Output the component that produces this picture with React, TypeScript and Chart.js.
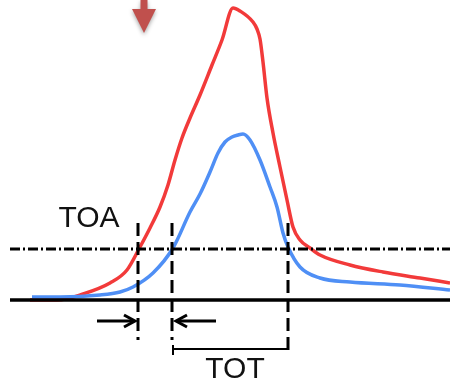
import React, { useEffect, useRef } from "react";
import { Chart, registerables } from "chart.js";

Chart.register(...registerables);

// time axis (arbitrary units) and amplitude (arbitrary units)
const redTime = [30, 57, 83, 110, 127, 140, 150, 160, 168, 175, 182, 190, 200, 212, 222, 233, 240, 253, 257, 260, 263, 267, 273, 280, 287, 293, 300, 310, 320, 350, 383, 420, 450];
const redAmp = [0, 0, 6, 17, 30, 53, 72, 93, 115, 140, 162, 182, 205, 235, 260, 292, 289, 278, 271, 261, 238, 202, 167, 133, 100, 73, 60, 52, 45, 35, 28, 22, 17];

const blueTime = [32, 60, 100, 120, 133, 153, 173, 190, 200, 210, 218, 225, 232, 238, 243, 250, 260, 270, 277, 283, 288, 300, 320, 350, 400, 450];
const blueAmp = [3, 3, 5, 8, 13, 27, 52, 88, 106, 128, 147, 158, 163, 165, 166, 160, 140, 113, 93, 67, 53, 33, 22, 18, 15, 10];

const axisStart = 10;
const axisEnd = 450;
const threshold = 51;
const toaTimes = [138, 172];
const totEnd = 288;
const markerTime = 144;
const labels = ["TOA", "TOT"];

const xMin = 0;
const xMax = 450;
const yMin = -82;
const yMax = 300;

const annotations = {
  id: "annotations",
  afterDatasetsDraw(chart: any) {
    const ctx = chart.ctx as CanvasRenderingContext2D;
    const xs = chart.scales.x;
    const ys = chart.scales.y;
    const X = (v: number) => xs.getPixelForValue(v);
    const Y = (v: number) => ys.getPixelForValue(v);
    ctx.save();
    ctx.strokeStyle = "#000";
    ctx.lineCap = "butt";

    // baseline
    ctx.lineWidth = 3.5;
    ctx.setLineDash([]);
    ctx.beginPath();
    ctx.moveTo(X(axisStart), Y(0));
    ctx.lineTo(X(axisEnd), Y(0));
    ctx.stroke();

    // threshold dash-dot
    ctx.lineWidth = 3;
    ctx.setLineDash([10, 3, 2, 3]);
    ctx.beginPath();
    ctx.moveTo(X(axisStart), Y(threshold));
    ctx.lineTo(X(axisEnd), Y(threshold));
    ctx.stroke();

    // vertical dashed lines
    ctx.lineWidth = 3;
    ctx.setLineDash([13, 6]);
    const verts = [
      [toaTimes[0], -40],
      [toaTimes[1], -40],
      [totEnd, -55],
    ];
    for (const [t, bottom] of verts) {
      ctx.beginPath();
      ctx.moveTo(X(t), Y(77));
      ctx.lineTo(X(t), Y(bottom));
      ctx.stroke();
    }
    ctx.setLineDash([]);

    // TOA arrows
    ctx.lineWidth = 3;
    ctx.lineJoin = "miter";
    const ay = Y(-21);
    const drawArrow = (from: number, to: number) => {
      const x0 = X(from);
      const x1 = X(to);
      const dir = Math.sign(x1 - x0);
      ctx.beginPath();
      ctx.moveTo(x0, ay);
      ctx.lineTo(x1 - dir * 2, ay);
      ctx.stroke();
      ctx.beginPath();
      ctx.moveTo(x1 - dir * 12, ay - 6);
      ctx.lineTo(x1 - dir * 1, ay);
      ctx.lineTo(x1 - dir * 12, ay + 6);
      ctx.stroke();
    };
    drawArrow(toaTimes[0] - 41, toaTimes[0] - 2);
    drawArrow(toaTimes[1] + 44, toaTimes[1] + 3);

    // TOT bracket
    ctx.lineWidth = 2;
    const by = Y(-49);
    ctx.beginPath();
    ctx.moveTo(X(toaTimes[1] + 1), by);
    ctx.lineTo(X(totEnd + 1), by);
    ctx.moveTo(X(toaTimes[1] + 1), by - 4);
    ctx.lineTo(X(toaTimes[1] + 1), by + 6);
    ctx.stroke();

    // labels
    ctx.fillStyle = "#111";
    ctx.font = "30px 'Liberation Sans', Arial, sans-serif";
    ctx.textAlign = "center";
    ctx.textBaseline = "alphabetic";
    ctx.fillText(labels[0], X(89), Y(73));
    ctx.fillText(labels[1], X(235), Y(-78));

    // red marker arrow at top
    const mx = X(markerTime);
    const top = chart.chartArea.top;
    ctx.shadowColor = "rgba(0,0,0,0.35)";
    ctx.shadowBlur = 4;
    ctx.shadowOffsetX = 0;
    ctx.shadowOffsetY = 2;
    ctx.fillStyle = "#c0504d";
    ctx.beginPath();
    ctx.moveTo(mx - 3.5, top);
    ctx.lineTo(mx + 3.5, top);
    ctx.lineTo(mx + 3.5, top + 9);
    ctx.lineTo(mx + 12, top + 9);
    ctx.lineTo(mx, top + 33);
    ctx.lineTo(mx - 12, top + 9);
    ctx.lineTo(mx - 3.5, top + 9);
    ctx.closePath();
    ctx.fill();
    ctx.restore();
  },
};

export default function App() {
  const ref = useRef<HTMLCanvasElement | null>(null);
  useEffect(() => {
    document.body.style.margin = "0";
    const canvas = ref.current;
    if (!canvas) return;
    const chart = new Chart(canvas, {
      type: "line",
      data: {
        datasets: [
          {
            label: "blue",
            data: blueTime.map((t, i) => ({ x: t, y: blueAmp[i] })),
            borderColor: "#4f8ff5",
            borderWidth: 3.5,
            pointRadius: 0,
            cubicInterpolationMode: "monotone",
            fill: false,
          },
          {
            label: "red",
            data: redTime.map((t, i) => ({ x: t, y: redAmp[i] })),
            borderColor: "#f23a3a",
            borderWidth: 3.5,
            pointRadius: 0,
            cubicInterpolationMode: "monotone",
            fill: false,
          },
        ],
      },
      options: {
        responsive: false,
        maintainAspectRatio: false,
        animation: false,
        layout: { padding: 0 },
        plugins: { legend: { display: false }, tooltip: { enabled: false } },
        scales: {
          x: { type: "linear", min: xMin, max: xMax, display: false },
          y: { type: "linear", min: yMin, max: yMax, display: false },
        },
      },
      plugins: [annotations],
    });
    return () => chart.destroy();
  }, []);
  return (
    <div style={{ width: 450, height: 382 }}>
      <canvas ref={ref} width={450} height={382} style={{ display: "block", width: 450, height: 382 }} />
    </div>
  );
}
